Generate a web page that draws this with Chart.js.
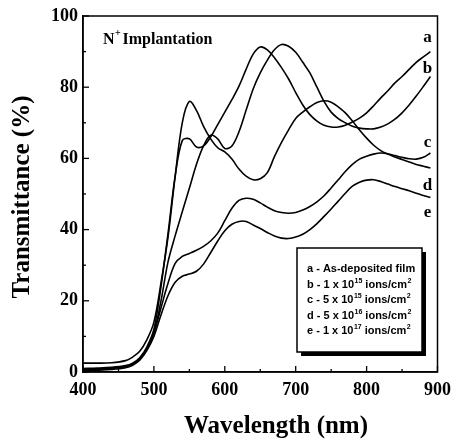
<!DOCTYPE html>
<html><head><meta charset="utf-8">
<script src="https://cdn.jsdelivr.net/npm/chart.js@4.4.0/dist/chart.umd.min.js"></script>
<style>html,body{margin:0;padding:0;background:#fff}canvas{display:block}</style>
</head><body>
<canvas id="c" width="459" height="441"></canvas>
<script>
// ---- data ----
const wavelength = [400,420,440,460,470,480,490,500,510,520,530,540,550,560,570,580,590,600,610,620,630,640,650,660,670,680,690,700,710,720,730,740,750,760,770,780,790,800,810,820,830,840,850,860,870,880,890];
const seriesA = [1.0,1.1,1.3,1.8,2.5,4.0,7.0,12,24,39,55,65,65.5,63.2,63.5,66,69.5,73,76.5,80.3,85,89.3,91.3,90.5,88.3,85.5,82.3,78.5,75,72.3,70.5,69.3,68.8,68.8,69.3,70.2,71.3,72.8,74.8,77,79,81.2,83,85,87,88.5,90];
const seriesB = [0.7,0.8,1.0,1.5,2.2,3.6,6.5,11,20,31,38.3,45,51.6,58.3,63.5,66.5,65.5,62.8,63.5,67.5,73.5,79.5,84,87.6,90.5,92,91.5,89.8,87,84,80,76,73,71.2,70,69,68.5,68.3,68.3,68.8,69.7,71,72.8,75,77.5,80.2,83];
const seriesC = [0.8,0.9,1.1,1.6,2.3,3.8,6.5,11,18,25,30.5,32.5,33.3,34.2,35.3,36.8,39,42.5,46,48.2,48.8,48.5,47.5,46.3,45.3,44.8,44.6,44.8,45.5,46.5,47.8,49.5,51.7,54,56.3,58.3,59.8,60.6,61.2,61.5,61.3,60.8,60.3,59.9,59.8,60.3,61.5];
const seriesD = [2.5,2.5,2.6,3.2,4.2,5.8,9,14,25,38,55,70,76,73.5,69,65.5,63,61.8,59.8,57,55,54,54.3,56,60.5,64.5,68,71.2,73,74.5,75.7,76.2,75.8,74.5,72.8,70.5,68,65.7,63.7,62.2,61.2,60.4,59.7,59,58.3,57.8,57.3];
const seriesE = [0.4,0.5,0.7,1.2,1.9,3.3,6,10,16,21.5,25.2,26.9,27.5,28.3,30.3,33.5,36.8,39.7,41.5,42.3,42.3,41.3,40.3,39.2,38.2,37.6,37.5,37.9,38.7,40,41.7,43.7,45.8,48,50.2,52.2,53.3,53.9,54,53.5,52.8,52.1,51.5,50.9,50.2,49.6,49];
const curveLabels = ['a','b','c','d','e'];
const legendMain = ['a - As-deposited film','b - 1 x 10','c - 5 x 10','d - 5 x 10','e - 1 x 10'];
const legendExp = ['','15','15','16','17'];
const xTickValues = [400,500,600,700,800,900];
const yTickValues = [0,20,40,60,80,100];
const xTitle = 'Wavelength (nm)';
const yTitle = 'Transmittance (%)';

const allSeries = [seriesA, seriesB, seriesC, seriesD, seriesE];
const datasets = allSeries.map((s, i) => ({
  label: curveLabels[i],
  data: wavelength.map((w, j) => ({x: w, y: s[j]})),
  borderColor: '#000', borderWidth: 1.6, pointRadius: 0, tension: 0.35, fill: false
}));

const SERIF = "'Liberation Serif','Times New Roman',serif";
const SANS = "'Liberation Sans',Arial,sans-serif";

const decor = {
  id: 'decor',
  afterDraw(chart) {
    const ctx = chart.ctx, ca = chart.chartArea;
    const xs = chart.scales.x, ys = chart.scales.y;
    ctx.save();
    ctx.strokeStyle = '#000'; ctx.fillStyle = '#000';
    // frame
    ctx.lineWidth = 1.5;
    ctx.strokeRect(ca.left, ca.top, ca.right - ca.left, ca.bottom - ca.top);
    // ticks (inward)
    ctx.lineWidth = 1.3;
    for (let v = 400; v <= 900; v += 50) {
      const px = xs.getPixelForValue(v);
      const len = (v % 100 === 0) ? 6 : 3;
      ctx.beginPath(); ctx.moveTo(px, ca.bottom); ctx.lineTo(px, ca.bottom - len); ctx.stroke();
    }
    for (let v = 0; v <= 100; v += 10) {
      const py = ys.getPixelForValue(v);
      const len = (v % 20 === 0) ? 6 : 3;
      ctx.beginPath(); ctx.moveTo(ca.left, py); ctx.lineTo(ca.left + len, py); ctx.stroke();
    }
    // axis titles
    ctx.font = 'bold 25px ' + SERIF;
    ctx.textAlign = 'center'; ctx.textBaseline = 'alphabetic';
    ctx.fillText(xTitle, 276, 433);
    ctx.save();
    ctx.translate(29, 197); ctx.rotate(-Math.PI / 2);
    ctx.fillText(yTitle, 0, 0);
    ctx.restore();
    // N+ Implantation
    ctx.textAlign = 'left';
    ctx.font = 'bold 16px ' + SERIF;
    ctx.fillText('N', 103, 44);
    const nW = ctx.measureText('N').width;
    ctx.font = 'bold 10px ' + SERIF;
    ctx.fillText('+', 103 + nW + 0.5, 36);
    ctx.font = 'bold 16px ' + SERIF;
    ctx.fillText('Implantation', 103 + nW + 8, 44);
    // curve labels
    ctx.font = 'bold 17px ' + SERIF;
    ctx.textAlign = 'center';
    const labelPos = [[886, 94], [886, 85.4], [886, 64.6], [886, 52.5], [886, 44.9]];
    labelPos.forEach((p, i) => {
      ctx.fillText(curveLabels[i], xs.getPixelForValue(p[0]), ys.getPixelForValue(p[1]) + 5);
    });
    // legend box with shadow
    const bx = 297, by = 248, bw = 125, bh = 104;
    ctx.fillRect(bx + 4, by + 4, bw, bh);
    ctx.fillStyle = '#fff'; ctx.fillRect(bx, by, bw, bh);
    ctx.fillStyle = '#000'; ctx.lineWidth = 1.5;
    ctx.strokeRect(bx, by, bw, bh);
    ctx.textAlign = 'left';
    legendMain.forEach((t, i) => {
      const y = 272 + i * 15.5;
      let x = 307;
      ctx.font = 'bold 11px ' + SANS;
      ctx.fillText(t, x, y);
      if (legendExp[i]) {
        x += ctx.measureText(t).width + 0.5;
        ctx.font = 'bold 7px ' + SANS;
        ctx.fillText(legendExp[i], x, y - 5);
        x += ctx.measureText(legendExp[i]).width + 3;
        ctx.font = 'bold 11px ' + SANS;
        ctx.fillText('ions/cm', x, y);
        x += ctx.measureText('ions/cm').width + 0.5;
        ctx.font = 'bold 7px ' + SANS;
        ctx.fillText('2', x, y - 5);
      }
    });
    ctx.restore();
  }
};

new Chart(document.getElementById('c'), {
  type: 'line',
  data: { datasets },
  options: {
    responsive: false, animation: false, devicePixelRatio: 1,
    layout: { padding: { top: 16, right: 17, left: 0, bottom: 0 } },
    plugins: { legend: { display: false }, tooltip: { enabled: false } },
    scales: {
      x: {
        type: 'linear', min: 400, max: 900,
        afterBuildTicks: s => { s.ticks = xTickValues.map(v => ({value: v})); },
        ticks: { color: '#000', font: { family: SERIF, size: 18, weight: 'bold' }, padding: 8, maxRotation: 0 },
        grid: { display: true, drawOnChartArea: false, drawTicks: false },
        border: { display: true, color: '#000', width: 1.5 },
        afterFit: s => { s.height = 69; }
      },
      y: {
        min: 0, max: 100,
        afterBuildTicks: s => { s.ticks = yTickValues.map(v => ({value: v})); },
        ticks: { color: '#000', font: { family: SERIF, size: 18, weight: 'bold' }, padding: 5 },
        grid: { display: true, drawOnChartArea: false, drawTicks: false },
        border: { display: true, color: '#000', width: 1.5 },
        afterFit: s => { s.width = 83; }
      }
    }
  },
  plugins: [decor]
});
</script>
</body></html>
